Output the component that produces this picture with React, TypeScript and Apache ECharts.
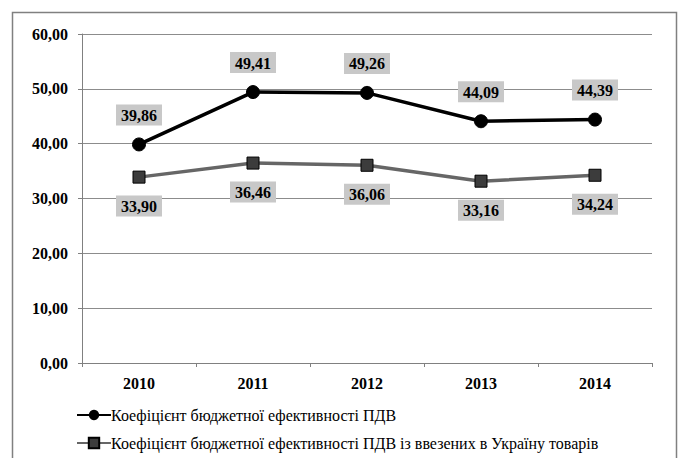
import React, { useEffect, useRef } from "react";
import * as echarts from "echarts";

const categories = ["2010", "2011", "2012", "2013", "2014"];
const seriesNames = [
  "Коефіцієнт бюджетної ефективності ПДВ",
  "Коефіцієнт бюджетної ефективності ПДВ із ввезених в Україну товарів",
];
const budgetEfficiency = [39.86, 49.41, 49.26, 44.09, 44.39];
const importEfficiency = [33.9, 36.46, 36.06, 33.16, 34.24];

const FONT = "Liberation Serif";
const fmt = (v: number) => v.toFixed(2).replace(".", ",");

export default function App() {
  const ref = useRef<HTMLDivElement>(null);
  useEffect(() => {
    document.body.style.margin = "0";
    const chart = echarts.init(ref.current!, null, { renderer: "svg" });
    const labelBase = {
      show: true,
      formatter: (p: any) => fmt(p.value),
      fontFamily: FONT,
      fontSize: 16,
      fontWeight: "bold" as const,
      color: "#000",
      backgroundColor: "#c8c8c8",
      padding: [3, 5, 2, 5],
    };
    chart.setOption({
      animation: false,
      backgroundColor: "#fff",
      textStyle: { fontFamily: FONT },
      graphic: [
        {
          type: "rect",
          shape: { x: 12.5, y: 12.5, width: 664, height: 470 },
          style: { fill: "none", stroke: "#808080", lineWidth: 1.5 },
          silent: true,
        },
      ],
      grid: { left: 82, right: 27, top: 34, bottom: 95, containLabel: false },
      xAxis: {
        type: "category",
        data: categories,
        boundaryGap: true,
        axisLine: { lineStyle: { color: "#808080", width: 1 } },
        axisTick: { show: true, length: 4, lineStyle: { color: "#808080" } },
        axisLabel: {
          fontFamily: FONT,
          fontSize: 16,
          fontWeight: "bold",
          color: "#000",
          margin: 12,
        },
      },
      yAxis: {
        type: "value",
        min: 0,
        max: 60,
        interval: 10,
        axisLine: { show: true, lineStyle: { color: "#808080" } },
        axisTick: { show: true, length: 4, lineStyle: { color: "#808080" } },
        splitLine: { lineStyle: { color: "#8c8c8c", width: 1 } },
        axisLabel: {
          fontFamily: FONT,
          fontSize: 16,
          fontWeight: "bold",
          color: "#000",
          margin: 14,
          formatter: (v: number) => fmt(v),
        },
      },
      legend: {
        orient: "vertical",
        left: 76,
        top: 407,
        padding: 0,
        itemGap: 12,
        itemWidth: 34,
        itemHeight: 13,
        textStyle: { fontFamily: FONT, fontSize: 16, color: "#000", padding: [0, 0, 0, -5] },
        data: seriesNames,
      },
      series: [
        {
          name: seriesNames[0],
          type: "line",
          data: budgetEfficiency,
          symbol: "circle",
          symbolSize: 13,
          lineStyle: { color: "#000", width: 3.5 },
          itemStyle: { color: "#000", borderColor: "#000" },
          label: { ...labelBase, position: "top", distance: 12 },
        },
        {
          name: seriesNames[1],
          type: "line",
          data: importEfficiency,
          symbol: "rect",
          symbolSize: 12,
          lineStyle: { color: "#666666", width: 3.5 },
          itemStyle: { color: "#3c3c3c", borderColor: "#000", borderWidth: 1 },
          label: { ...labelBase, position: "bottom", distance: 12 },
        },
      ],
    });
    return () => chart.dispose();
  }, []);
  return (
    <div
      ref={ref}
      style={{ position: "absolute", left: 0, top: 0, width: 679, height: 458 }}
    />
  );
}
